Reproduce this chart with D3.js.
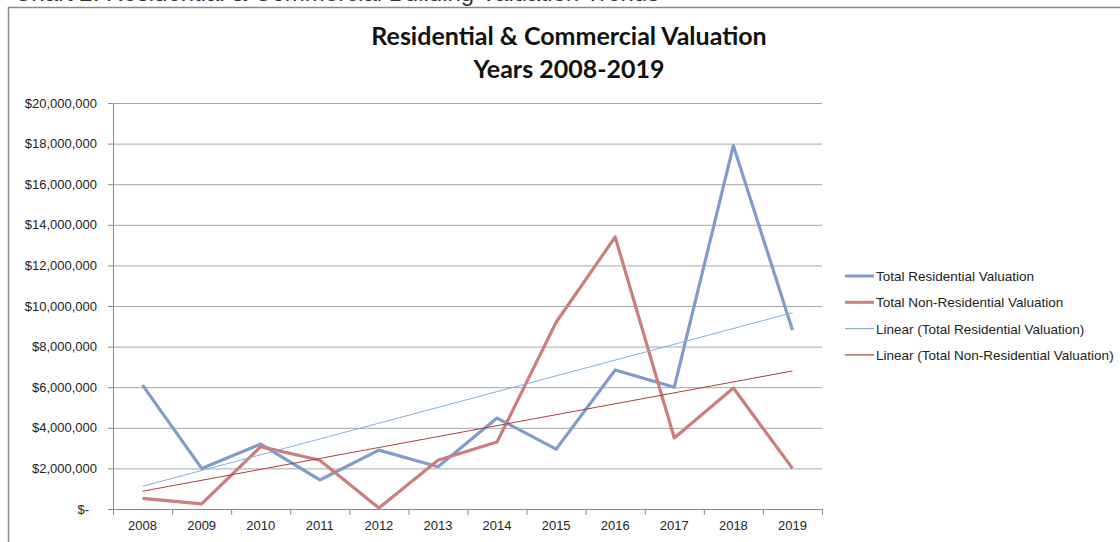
<!DOCTYPE html>
<html><head><meta charset="utf-8">
<script src="https://cdn.jsdelivr.net/npm/d3@7"></script>
<style>html,body{margin:0;padding:0;background:#fff;}svg{display:block;}</style>
</head><body>
<svg id="c" width="1120" height="542"></svg>
<script>
const years = ["2008","2009","2010","2011","2012","2013","2014","2015","2016","2017","2018","2019"];
const residential = [6100000,2000000,3200000,1430000,2900000,2080000,4480000,2950000,6850000,6000000,17900000,8820000];
const nonResidential = [520000,250000,3070000,2400000,50000,2400000,3300000,9200000,13400000,3500000,5960000,2000000];
const yTicks = [0,2000000,4000000,6000000,8000000,10000000,12000000,14000000,16000000,18000000,20000000];
const seriesNames = ["Total Residential Valuation","Total Non-Residential Valuation","Linear (Total Residential Valuation)","Linear (Total Non-Residential Valuation)"];

const svg = d3.select("#c");
const font = "Liberation Sans, Arial, sans-serif";

// partially visible heading above the chart frame (cut off in the reference too)
svg.append("text").attr("x",14).attr("y",0.5).attr("font-family","Liberation Sans, sans-serif").attr("font-size",24).attr("fill","#333")
  .text("Chart 2: Residential & Commercial Building Valuation Trends");

// chart frame
svg.append("path").attr("d","M8.5,542 V7.5 H1120").attr("fill","none").attr("stroke","#8a8a8a").attr("stroke-width",1.5);

const x = d3.scaleBand().domain(years).range([113,822]);
const y = d3.scaleLinear().domain([0,20000000]).range([509,103]);

const yAxis = d3.axisLeft(y).tickValues(yTicks).tickSize(5).tickPadding(11)
  .tickFormat(v => v===0 ? "$-" : "$" + d3.format(",")(v));
const gy = svg.append("g").attr("transform","translate(113,0)").call(yAxis);
gy.select(".domain").attr("stroke","#8a8a8a");
gy.selectAll(".tick line").attr("stroke","#8a8a8a");
gy.selectAll("text").attr("font-family",font).attr("font-size",13).attr("fill","#222");
gy.selectAll(".tick").filter(d=>d===0).select("text").attr("dx",-8);

svg.append("g").selectAll("line").data(yTicks.filter(d=>d>0)).join("line")
  .attr("x1",113).attr("x2",822).attr("y1",d=>y(d)+0.5).attr("y2",d=>y(d)+0.5)
  .attr("stroke","#a6a6a6").attr("stroke-width",1);

const xAxis = d3.axisBottom(x).tickSizeOuter(0).tickSizeInner(0).tickPadding(12);
const gx = svg.append("g").attr("transform","translate(0,509)").call(xAxis);
gx.select(".domain").attr("stroke","#8a8a8a");
gx.selectAll("text").attr("font-family",font).attr("font-size",13).attr("fill","#222");
svg.append("g").selectAll("line").data(years.concat(["end"])).join("line")
  .attr("x1",(d,i)=>113+i*x.bandwidth()+0.5).attr("x2",(d,i)=>113+i*x.bandwidth()+0.5)
  .attr("y1",509).attr("y2",515).attr("stroke","#8a8a8a");

const cx = d => x(d) + x.bandwidth()/2;
const line = d3.line().x((d,i)=>cx(years[i])).y(d=>y(d));

function trend(vals){
  const n = vals.length, mx = (n-1)/2, my = d3.mean(vals);
  let sxy=0, sxx=0;
  vals.forEach((v,i)=>{sxy+=(i-mx)*(v-my); sxx+=(i-mx)*(i-mx);});
  const b = sxy/sxx, a = my - b*mx;
  return [[0,a],[n-1,a+b*(n-1)]];
}

const colors = ["#7f9cca","#cc7e7d","#86ade0","#a8403d"];
svg.append("path").datum(residential).attr("d",line).attr("fill","none").attr("stroke",colors[0]).attr("stroke-width",3.2).attr("stroke-linejoin","round");
svg.append("path").datum(nonResidential).attr("d",line).attr("fill","none").attr("stroke",colors[1]).attr("stroke-width",3.2).attr("stroke-linejoin","round");
[residential,nonResidential].forEach((vals,k)=>{
  const t = trend(vals);
  svg.append("line").attr("x1",cx(years[t[0][0]])).attr("y1",y(t[0][1])).attr("x2",cx(years[t[1][0]])).attr("y2",y(t[1][1]))
    .attr("stroke",colors[k+2]).attr("stroke-width",1);
});

// title
const title = svg.append("text").attr("text-anchor","middle").attr("font-family","Lato, sans-serif").attr("font-weight","bold").attr("font-size",25).attr("fill","#111");
title.append("tspan").attr("x",569).attr("y",45).text("Residential & Commercial Valuation");
title.append("tspan").attr("x",569).attr("y",78).text("Years 2008-2019");

// legend
const lg = svg.append("g");
seriesNames.forEach((n,i)=>{
  const yy = 276 + i*26.3;
  lg.append("line").attr("x1",845).attr("x2",874).attr("y1",yy).attr("y2",yy).attr("stroke",colors[i]).attr("stroke-width",i<2?3:1.2);
  lg.append("text").attr("x",876).attr("y",yy+5).attr("font-family",font).attr("font-size",13.5).attr("fill","#222").text(n);
});
</script>
</body></html>
